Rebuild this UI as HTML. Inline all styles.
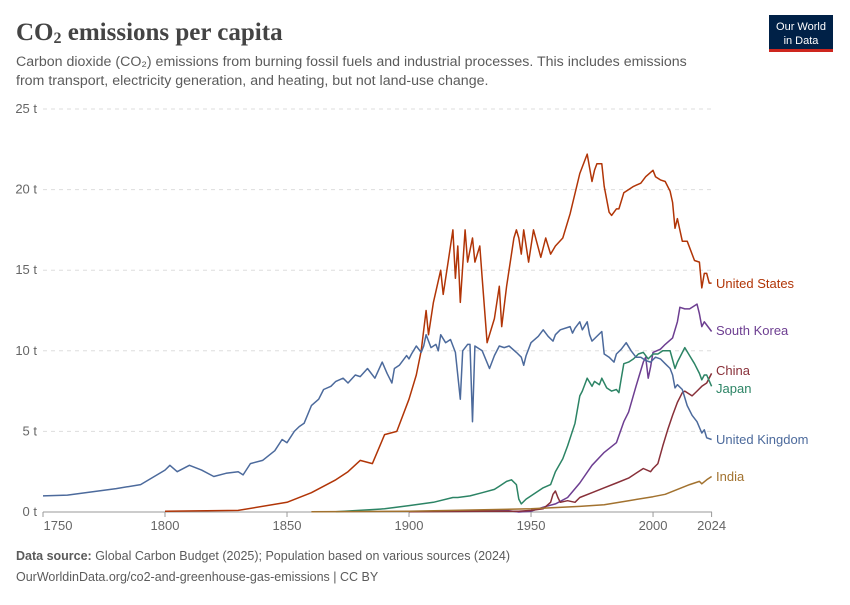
<!DOCTYPE html>
<html><head><meta charset="utf-8"><style>
body{margin:0;background:#fff;width:850px;height:600px;overflow:hidden;font-family:"Liberation Sans",sans-serif}
</style></head><body>
<svg id="c" width="850" height="600" xmlns="http://www.w3.org/2000/svg">
<text x="16" y="40" font-family="Liberation Serif,serif" font-size="25" font-weight="bold" fill="#444">CO<tspan font-size="16" dy="3">2</tspan><tspan dy="-3"> emissions per capita</tspan></text>
<text x="16" y="66" font-size="14.2" fill="#5b5b5b">Carbon dioxide (CO₂) emissions from burning fossil fuels and industrial processes. This includes emissions</text>
<text x="16" y="85" font-size="14.2" fill="#5b5b5b">from transport, electricity generation, and heating, but not land-use change.</text>
<g><rect x="769" y="15" width="64" height="37" fill="#002147"/><rect x="769" y="49" width="64" height="3" fill="#ce261e"/>
<text x="801" y="30" font-size="11" fill="#fff" text-anchor="middle">Our World</text><text x="801" y="44" font-size="11" fill="#fff" text-anchor="middle">in Data</text></g>
<g id="grid"></g><g id="series"></g>
<text x="16" y="560" font-size="12.5" fill="#5b5b5b"><tspan font-weight="bold">Data source:</tspan> Global Carbon Budget (2025); Population based on various sources (2024)</text>
<text x="16" y="581" font-size="12.5" fill="#5b5b5b">OurWorldinData.org/co2-and-greenhouse-gas-emissions | CC BY</text>
</svg>
<script>
const yTicks=[0,5,10,15,20,25];
const xTicks=[1750,1800,1850,1900,1950,2000,2024];
const names=["United States","South Korea","China","Japan","United Kingdom","India"];
const colors=["#b13507","#6d3e91","#883039","#2c8465","#4c6a9c","#a2722f"];
const labelY=[284,331,371,389,440,477];
const us=[[1800,0.05],[1830,0.1],[1850,0.6],[1860,1.2],[1870,2.0],[1875,2.5],[1880,3.2],[1885,3.0],[1890,4.8],[1895,5.0],[1900,7.0],[1903,8.5],[1905,10],[1907,12.5],[1908,11],[1910,13],[1913,15],[1914,13.5],[1916,15.5],[1917,16.5],[1918,17.5],[1919,14.5],[1920,16.5],[1921,13],[1923,17.5],[1924,15.5],[1926,17],[1927,15.5],[1929,16.5],[1930,14.5],[1932,10.5],[1935,12],[1937,14],[1938,11.5],[1940,14],[1943,17],[1944,17.5],[1945,17],[1946,16],[1947,17.5],[1949,15.5],[1951,17.5],[1954,15.8],[1956,17],[1958,16],[1960,16.5],[1963,17],[1966,18.5],[1970,21],[1973,22.2],[1975,20.5],[1976,21.2],[1977,21.6],[1979,21.6],[1980,20.2],[1982,18.6],[1983,18.4],[1985,18.8],[1986,18.8],[1988,19.8],[1990,20],[1992,20.2],[1995,20.4],[1997,20.8],[2000,21.2],[2001,20.8],[2003,20.6],[2005,20.5],[2007,19.9],[2008,19.2],[2009,17.6],[2010,18.2],[2012,16.8],[2014,16.8],[2017,15.6],[2019,15.5],[2020,13.9],[2021,14.8],[2022,14.8],[2023,14.2],[2024,14.2]];
const kr=[[1910,0.05],[1940,0.1],[1945,0.0],[1950,0.05],[1955,0.3],[1960,0.5],[1965,0.9],[1970,1.8],[1975,2.9],[1980,3.7],[1985,4.3],[1988,5.6],[1990,6.2],[1993,7.8],[1996,9.3],[1997,9.6],[1998,8.3],[1999,9.0],[2000,9.9],[2003,10.1],[2005,10.4],[2008,10.8],[2010,11.8],[2011,12.7],[2013,12.6],[2015,12.6],[2017,12.8],[2018,12.9],[2019,12.3],[2020,11.5],[2021,11.8],[2022,11.6],[2024,11.2]];
const cn=[[1900,0.02],[1930,0.05],[1945,0.05],[1950,0.1],[1955,0.2],[1958,0.6],[1959,1.1],[1960,1.3],[1961,0.9],[1962,0.6],[1965,0.7],[1968,0.6],[1970,0.9],[1975,1.2],[1980,1.5],[1985,1.8],[1990,2.1],[1995,2.6],[1996,2.7],[1999,2.5],[2000,2.7],[2002,3.0],[2004,4.1],[2006,5.1],[2008,6.0],[2010,6.8],[2012,7.4],[2013,7.5],[2015,7.3],[2016,7.2],[2018,7.5],[2020,7.8],[2022,8.0],[2024,8.6]];
const jp=[[1870,0.02],[1890,0.2],[1900,0.4],[1910,0.6],[1918,0.9],[1920,0.9],[1925,1.0],[1930,1.2],[1935,1.4],[1937,1.6],[1940,1.9],[1942,2.0],[1944,1.7],[1945,0.8],[1946,0.5],[1948,0.8],[1950,1.0],[1955,1.5],[1958,1.7],[1960,2.5],[1963,3.3],[1965,4.1],[1968,5.5],[1970,7.2],[1971,7.5],[1973,8.3],[1975,7.8],[1976,8.1],[1978,7.9],[1979,8.3],[1981,7.7],[1983,7.5],[1985,7.6],[1986,7.4],[1987,8.3],[1988,9.2],[1990,9.3],[1992,9.5],[1994,9.8],[1996,9.9],[1998,9.5],[2000,9.8],[2002,9.8],[2004,10.0],[2007,10.0],[2009,8.9],[2010,9.3],[2013,10.2],[2015,9.7],[2017,9.2],[2019,8.6],[2020,8.2],[2021,8.5],[2022,8.5],[2024,7.8]];
const uk=[[1750,1.0],[1760,1.05],[1770,1.25],[1780,1.45],[1790,1.7],[1800,2.6],[1802,2.9],[1805,2.5],[1810,2.9],[1815,2.6],[1820,2.2],[1825,2.4],[1830,2.5],[1832,2.3],[1835,3.0],[1840,3.2],[1845,3.8],[1848,4.5],[1850,4.3],[1853,5.0],[1855,5.3],[1857,5.5],[1860,6.6],[1863,7.0],[1865,7.6],[1868,7.8],[1870,8.1],[1873,8.3],[1875,8.0],[1878,8.5],[1880,8.4],[1883,8.9],[1886,8.3],[1889,9.3],[1891,8.6],[1893,8.0],[1894,8.9],[1896,9.1],[1899,9.7],[1900,9.5],[1901,9.8],[1903,10.3],[1905,9.9],[1906,10.3],[1907,11.0],[1909,10.2],[1911,10.4],[1912,10.0],[1913,11.0],[1915,10.5],[1917,10.7],[1919,9.9],[1921,7.0],[1922,10.0],[1924,10.4],[1925,10.4],[1926,5.6],[1927,10.3],[1930,10.0],[1933,8.9],[1935,9.7],[1937,10.3],[1939,10.2],[1941,10.3],[1944,9.9],[1946,9.6],[1947,9.1],[1948,9.7],[1950,10.5],[1953,10.9],[1955,11.3],[1957,10.9],[1959,10.6],[1960,11.0],[1962,11.3],[1966,11.5],[1967,11.1],[1968,11.4],[1970,11.8],[1971,11.3],[1973,11.8],[1974,11.0],[1975,10.6],[1979,11.2],[1980,9.8],[1982,9.6],[1984,9.3],[1985,9.8],[1987,10.1],[1989,10.5],[1991,10.0],[1993,9.6],[1995,9.6],[1997,9.4],[1999,9.3],[2001,9.6],[2003,9.5],[2005,9.2],[2007,8.9],[2008,8.5],[2009,7.7],[2010,7.9],[2012,7.6],[2014,6.6],[2016,6.0],[2018,5.6],[2020,4.9],[2021,5.1],[2022,4.6],[2024,4.5]];
const inds=[[1860,0.01],[1900,0.05],[1950,0.2],[1970,0.35],[1980,0.45],[1990,0.7],[2000,0.95],[2005,1.1],[2010,1.4],[2015,1.7],[2019,1.9],[2020,1.75],[2022,2.0],[2024,2.2]];
const seriesData=[us,kr,cn,jp,uk,inds];
const X=y=>43+(y-1750)*(668.6/274), Y=v=>512-v*16.12;
const NS="http://www.w3.org/2000/svg";
function mk(t,a,p){const e=document.createElementNS(NS,t);for(const k in a)e.setAttribute(k,a[k]);p.appendChild(e);return e;}
const g=document.getElementById('grid'), s=document.getElementById('series');
yTicks.forEach(v=>{
  const l=mk('line',{x1:43,x2:712,y1:Y(v),y2:Y(v),stroke:v?'#ddd':'#999','stroke-dasharray':v?'4,4':'none'},g);
  
  
  const t=mk('text',{x:37,y:Y(v)+4,'font-size':13,fill:'#666','text-anchor':'end'},g);
  t.textContent=v+' t';
  
  
});
xTicks.forEach(yr=>{
  const x=X(yr);
  const tk=mk('line',{x1:x,x2:x,y1:512,y2:517,stroke:'#999'},g);
  
  
  const t=mk('text',{x:yr===1750?Math.max(x,58):x,y:530,'font-size':13,fill:'#666','text-anchor':'middle'},g);
  t.textContent=yr;
  
  
});
seriesData.forEach((d,i)=>{
  const p=mk('path',{d:d.map((q,j)=>(j?'L':'M')+X(q[0]).toFixed(1)+','+Y(q[1]).toFixed(1)).join(''),fill:'none',stroke:colors[i],'stroke-width':1.5,'stroke-linejoin':'round'},s);
  
  
  const t=mk('text',{x:716,y:labelY[i]+4,'font-size':13,fill:colors[i]},s);
  t.textContent=names[i];
  
  
});
</script>
</body></html>
